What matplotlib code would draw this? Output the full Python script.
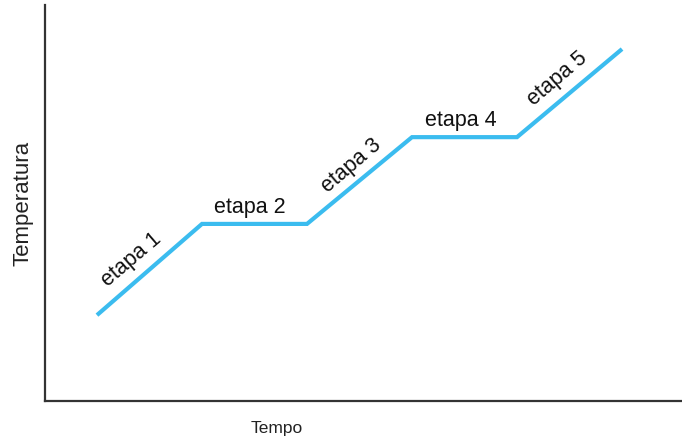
import matplotlib
matplotlib.use("Agg")
import matplotlib.pyplot as plt

# heating curve, arbitrary units
tempo = [0, 1, 2, 3, 4, 5]
temperatura = [20, 40.5, 40.5, 60, 60, 79.8]
etapas = ["etapa 1", "etapa 2", "etapa 3", "etapa 4", "etapa 5"]

plt.rcParams['font.family'] = ['Liberation Sans', 'DejaVu Sans']

fig = plt.figure(figsize=(6.82, 4.42), dpi=100)
ax = fig.add_axes([45 / 682, 41 / 442, 637 / 682, 396 / 442])

ax.plot(tempo, temperatura, color='#3BBCEF', linewidth=3.0,
        solid_joinstyle='miter', solid_capstyle='butt')

ax.set_xlim(-0.495, 5.571)
ax.set_ylim(0.7, 89.7)

# label offsets from segment midpoints (pixels)
offsets = [(-18, 10), (-5, 16), (-8, 15), (-4, 17), (-12, 14)]
for i, nome in enumerate(etapas):
    x0, x1 = tempo[i], tempo[i + 1]
    y0, y1 = temperatura[i], temperatura[i + 1]
    rot = 40.5 if y1 != y0 else 0
    ax.annotate(nome, ((x0 + x1) / 2, (y0 + y1) / 2), xytext=offsets[i],
                textcoords='offset pixels', ha='center', va='center',
                rotation=rot, rotation_mode='anchor', fontsize=15.5, color='#111111')

for s in ['top', 'right']:
    ax.spines[s].set_visible(False)
for s in ['left', 'bottom']:
    ax.spines[s].set_color('#333333')
    ax.spines[s].set_linewidth(1.6)
ax.set_xticks([])
ax.set_yticks([])

ax.set_xlabel('Tempo', fontsize=12.5, color='#222222')
ax.set_ylabel('Temperatura', fontsize=16, color='#222222')
ax.xaxis.set_label_coords((277 - 45) / 637, -20 / 396)
ax.yaxis.set_label_coords(-12 / 637, (401 - 203) / 396)

fig.savefig('out.png', dpi=100)
